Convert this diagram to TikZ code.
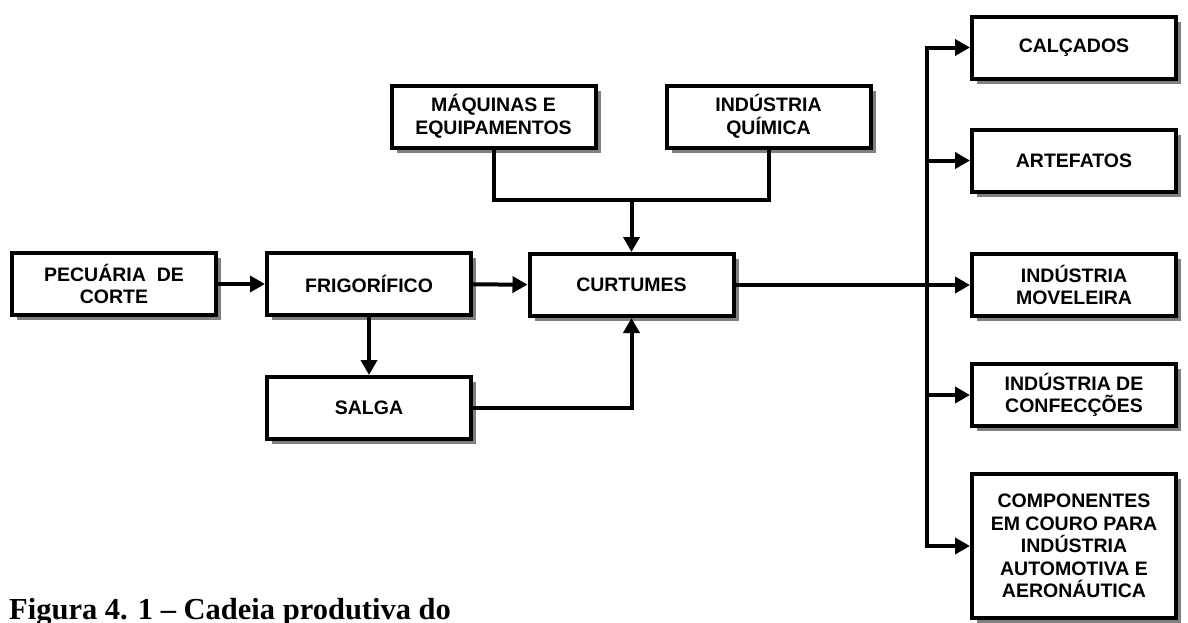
\documentclass[tikz,border=0pt]{standalone}
\usepackage{fontspec}
\setmainfont{Liberation Serif}
\newfontfamily\boxfont{Liberation Sans}
\usetikzlibrary{arrows.meta,shadows}

\tikzset{
  stage/.style={draw=black, line width=4pt, fill=white, minimum width=204pt,
    minimum height=62pt, inner sep=2pt, align=center,
    font=\boxfont\bfseries\fontsize{19.5}{22.5}\selectfont,
    drop shadow={shadow xshift=5pt, shadow yshift=-5pt, fill=black!50, opacity=1}},
  link/.style={line width=4pt, -{Triangle[length=15pt,width=16pt]}},
  bus/.style={line width=4pt, {Triangle[length=15pt,width=16pt]}-{Triangle[length=15pt,width=16pt]}},
  plain/.style={line width=4pt}
}

\begin{document}
\begin{tikzpicture}[x=1pt,y=-1pt]
  \useasboundingbox (0,0) rectangle (1188,622);
  \clip (0,0) rectangle (1188,622);

  % main chain
  \node[stage] (pec)   at (114,284)   {PECUÁRIA\ \ DE\\CORTE};
  \node[stage] (frig)  at (369,284)   {FRIGORÍFICO};
  \node[stage] (salga) at (369,408)   {SALGA};
  \node[stage] (curt)  at (631.5,285) {CURTUMES};

  % suppliers
  \node[stage] (maq)   at (493.5,116.5) {MÁQUINAS E\\EQUIPAMENTOS};
  \node[stage] (quim)  at (768.5,116.5) {INDÚSTRIA\\QUÍMICA};

  % consumers
  \node[stage] (calc)   at (1074,47.5)  {CALÇADOS};
  \node[stage] (artef)  at (1074,160.5) {ARTEFATOS};
  \node[stage] (movel)  at (1074,285)   {INDÚSTRIA\\MOVELEIRA};
  \node[stage] (confec) at (1074,395)   {INDÚSTRIA DE\\CONFECÇÕES};
  \node[stage, minimum height=144pt] (comp) at (1074,546)
    {COMPONENTES\\EM COURO PARA\\INDÚSTRIA\\AUTOMOTIVA E\\AERONÁUTICA};

  \coordinate (join) at (631.5,200);
  \coordinate (bx) at (927,0);

  % connectors
  \draw[link] (pec) -- (frig);
  \draw[link] (frig) -- (curt);
  \draw[link] (frig) -- (salga);
  \draw[link] (salga.east) -| (curt.south);
  \draw[plain] (maq.south) |- (join) -| (quim.south);
  \draw[link] (join) -- (curt.north);

  \draw[bus] (calc.west) -| (comp.west -| bx) -- (comp.west);
  \draw[link] (artef.west -| bx) -- (artef.west);
  \draw[link] (curt.east) -- (movel.west);
  \draw[link] (confec.west -| bx) -- (confec.west);

  % caption
  \node[anchor=base west, inner sep=0pt] (cap) at (9,619)
    {\bfseries\fontsize{30.5}{33}\selectfont Figura 4. 1 – Cadeia produtiva do};
\end{tikzpicture}
\end{document}
